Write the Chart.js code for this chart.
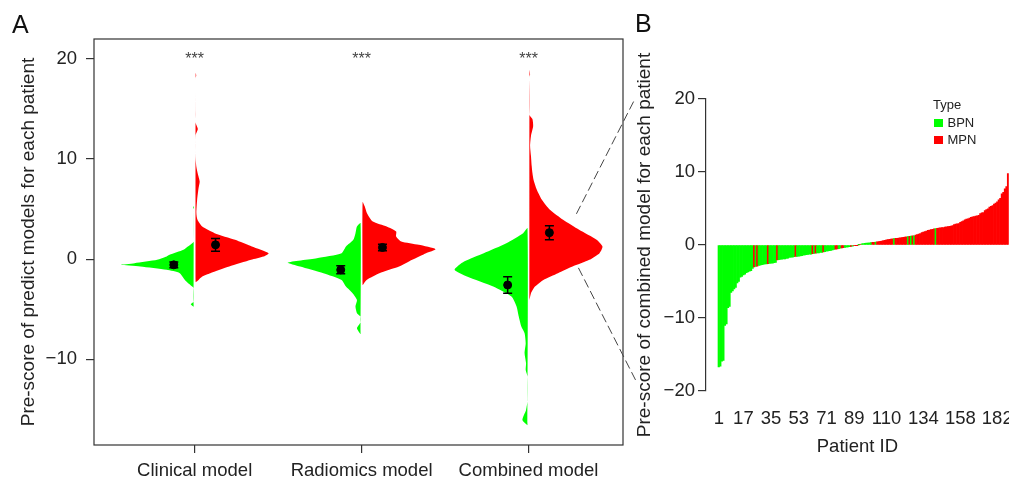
<!DOCTYPE html>
<html>
<head>
<meta charset="utf-8">
<title>Pre-score violins and waterfall</title>
<script src="https://cdn.jsdelivr.net/npm/chart.js@4.4.1/dist/chart.umd.min.js"></script>
<style>
  html, body { margin: 0; padding: 0; background: #fff; overflow: hidden; }
  body { width: 1009px; height: 480px; position: relative; font-family: "Liberation Sans", Arial, Helvetica, sans-serif; }
  #chartA { position: absolute; left: 0; top: 0; }
  #chartB { position: absolute; left: 630px; top: 0; }
  .panel { position: absolute; font-size: 25px; line-height: 1; color: #111; }
</style>
</head>
<body>
<canvas id="chartA" width="640" height="480"></canvas>
<canvas id="chartB" width="400" height="480"></canvas>
<div class="panel" style="left:12px;top:12px">A</div>
<div class="panel" style="left:635px;top:11px">B</div>
<script>
// ---------- Panel A data ----------
const models = ["Clinical model", "Radiomics model", "Combined model"];
const scoreTicks = [-10, 0, 10, 20];

// violin outlines: score levels and relative density (1 = widest)
const clinBpnY = [-4.75, -4.5, -4.25, -2.9, -2.74, -2.07, -1.4, -1.07, -0.74, -0.57, -0.4, -0.07, 0.26, 0.43, 0.93, 1.26, 1.6, 1.75, 5.0, 5.15, 5.3];
const clinBpnD = [0, 0.04, 0, 0, 0.02, 0.12, 0.19, 0.37, 0.73, 1.0, 0.81, 0.5, 0.37, 0.33, 0.14, 0.08, 0.02, 0, 0, 0.01, 0];
const clinMpnY = [-2.3, -2.07, -1.74, -1.4, -0.74, -0.07, 0.26, 0.6, 1.26, 1.93, 2.6, 3.26, 3.93, 4.6, 5.9, 7.1, 7.76, 8.5, 9.2, 10.0, 12.4, 13.0, 13.6, 14.5, 18.1, 18.35, 18.6];
const clinMpnD = [0, 0.04, 0.09, 0.2, 0.46, 0.76, 0.93, 1.0, 0.77, 0.54, 0.26, 0.09, 0.025, 0.01, 0.02, 0.04, 0.055, 0.03, 0.01, 0, 0, 0.03, 0, 0, 0, 0.008, 0];
const radBpnY = [-7.5, -6.9, -6.3, -5.74, -5.4, -4.74, -4.07, -3.4, -2.74, -2.07, -1.4, -0.74, -0.34, 0.1, 0.6, 1.26, 1.93, 2.6, 3.26, 3.6];
const radBpnD = [0, 0.05, 0, 0, 0.05, 0.07, 0.05, 0.11, 0.2, 0.26, 0.51, 0.83, 1.0, 0.6, 0.26, 0.2, 0.1, 0.07, 0.05, 0];
const radMpnY = [-2.6, -2.07, -1.4, -0.74, -0.07, 0.6, 1.0, 1.43, 1.76, 2.26, 2.76, 3.26, 3.76, 4.6, 5.26, 5.7];
const radMpnD = [0, 0.055, 0.23, 0.5, 0.68, 0.87, 1.0, 0.77, 0.53, 0.46, 0.46, 0.33, 0.14, 0.06, 0.03, 0];
const combBpnY = [-16.6, -16.07, -15.07, -14.1, -11.74, -11.07, -10.4, -9.4, -8.4, -7.4, -6.74, -5.74, -4.74, -3.74, -2.74, -1.74, -1.07, -0.24, 0.6, 1.6, 2.6, 3.1];
const combBpnD = [0, 0.07, 0.02, 0, 0, 0.025, 0.02, 0.04, 0.025, 0.04, 0.085, 0.12, 0.15, 0.22, 0.47, 0.83, 1.0, 0.87, 0.6, 0.29, 0.06, 0];
const combMpnY = [-4.07, -3.4, -2.74, -2.07, -1.4, -0.74, -0.07, 0.6, 1.26, 1.93, 2.93, 3.93, 4.93, 5.93, 6.93, 7.93, 8.6, 9.3, 10.3, 11.3, 12.3, 13.3, 14.0, 14.4, 18.2, 18.5, 18.9];
const combMpnD = [0, 0.02, 0.075, 0.19, 0.39, 0.59, 0.82, 0.96, 1.0, 0.92, 0.68, 0.46, 0.28, 0.17, 0.1, 0.055, 0.04, 0.03, 0.02, 0.008, 0.02, 0.05, 0.04, 0, 0, 0.008, 0];

// mean and standard error per model
const meanBpn = [-0.57, -1.07, -2.58];
const seBpn = [0.28, 0.4, 0.83];
const meanMpn = [1.43, 1.17, 2.65];
const seMpn = [0.63, 0.33, 0.7];
const signif = ["***", "***", "***"];

// ---------- Panel B data ----------
const patientScore = [
  -16.7, -16.6, -15.9, -15.8, -11.0, -10.8, -8.6, -8.4, -6.5, -6.3,
  -6.0, -5.8, -5.2, -5.0, -4.4, -4.3, -4.1, -4.0, -3.8, -3.7,
  -3.6, -3.5, -3.2, -3.0, -2.95, -2.9, -2.8, -2.75, -2.7, -2.65,
  -2.6, -2.58, -2.55, -2.52, -2.5, -2.48, -2.42, -2.4, -2.05, -2.0,
  -1.98, -1.95, -1.92, -1.9, -1.85, -1.82, -1.7, -1.68, -1.65, -1.6,
  -1.57, -1.55, -1.52, -1.5, -1.45, -1.4, -1.35, -1.32, -1.3, -1.27,
  -1.25, -1.2, -1.17, -1.12, -1.1, -1.07, -1.03, -1.0, -0.95, -0.9,
  -0.86, -0.82, -0.78, -0.74, -0.68, -0.62, -0.57, -0.53, -0.49, -0.45,
  -0.41, -0.38, -0.34, -0.3, -0.26, -0.22, -0.19, -0.15, -0.1, -0.06,
  -0.03, 0.02, 0.1, 0.15, 0.2, 0.22, 0.25, 0.27, 0.3, 0.32,
  0.35, 0.37, 0.4, 0.45, 0.48, 0.5, 0.55, 0.6, 0.65, 0.7,
  0.74, 0.78, 0.82, 0.85, 0.87, 0.9, 0.93, 0.96, 0.99, 1.02,
  1.05, 1.08, 1.12, 1.15, 1.18, 1.21, 1.24, 1.27, 1.35, 1.42,
  1.48, 1.55, 1.7, 1.78, 1.85, 1.92, 2.0, 2.05, 2.1, 2.15,
  2.2, 2.25, 2.3, 2.33, 2.36, 2.38, 2.4, 2.45, 2.5, 2.53,
  2.56, 2.6, 2.65, 2.8, 2.85, 2.9, 2.95, 3.1, 3.2, 3.3,
  3.45, 3.55, 3.6, 3.7, 3.8, 3.85, 3.9, 3.95, 4.0, 4.05,
  4.3, 4.4, 4.45, 4.7, 4.85, 4.95, 5.2, 5.3, 5.4, 5.6,
  5.75, 5.9, 6.2, 6.4, 7.0, 7.2, 7.7, 8.0, 9.8
];
// B = BPN, M = MPN, one letter per patient
const patientType = (
  "BBBBBBBBBB" + "BBBBBBBBBB" + "BBBMBMBBBB" + "BBMBBBBBMB" + "BBBBBBBBBB" +
  "MBBBBBBBBB" + "BMBMBBBBMB" + "BBBBBBMMBB" + "MMBBBBMBMM" + "MBMBBBBBBB" +
  "MMBMMMMMMM" + "MMMMBMMMMM" + "MMMBMBMBMM" + "MMMMMMMMMM" + "MBMMMMMMMM" +
  "MMMMMMMMMM" + "MMMMMMMMMM" + "MMMMMMMMMM" + "MMMMMMMMM"
).split("");
const idTicks = [1, 17, 35, 53, 71, 89, 110, 134, 158, 182];
const typeNames = ["BPN", "MPN"];
const scoreTicksB = [-20, -10, 0, 10, 20];

// ---------- look ----------
const GREEN = "#00ff00";
const RED = "#ff0000";
const INK = "#222";
const AXIS = "#333";
const FONT = '"Liberation Sans", Arial, Helvetica, sans-serif';
const HALF_WIDTH = 0.437; // x units for relative density 1
const SPLIT_GAP = 0.006;  // white gap between the two halves
const DODGE = 0.125;

Chart.defaults.font.family = FONT;
Chart.defaults.color = INK;

const minus = v => (v < 0 ? "\u2212" + Math.abs(v) : String(v));

function halfViolin(center, side, ys, ds) {
  const pts = ys.map((y, i) => ({ x: center + side * (SPLIT_GAP + ds[i] * HALF_WIDTH), y: y }));
  pts.push({ x: center + side * SPLIT_GAP, y: ys[0] }); // close along the split line
  return pts;
}

function violinSet(center, side, ys, ds, color) {
  return {
    data: halfViolin(center, side, ys, ds),
    backgroundColor: color,
    borderWidth: 0,
    fill: "shape",
    pointRadius: 0,
    tension: 0.2,
    order: 1
  };
}

const violins = [
  violinSet(1, -1, clinBpnY, clinBpnD, GREEN),
  violinSet(1, 1, clinMpnY, clinMpnD, RED),
  violinSet(2, -1, radBpnY, radBpnD, GREEN),
  violinSet(2, 1, radMpnY, radMpnD, RED),
  violinSet(3, -1, combBpnY, combBpnD, GREEN),
  violinSet(3, 1, combMpnY, combMpnD, RED)
];

const meanPoints = [];
models.forEach((m, i) => {
  meanPoints.push({ x: i + 1 - DODGE, y: meanBpn[i] });
  meanPoints.push({ x: i + 1 + DODGE, y: meanMpn[i] });
});

// ---------- error bars ----------
const errorBars = {
  id: "errorBars",
  afterDatasetsDraw(chart) {
    const { ctx, scales: { x, y } } = chart;
    ctx.save();
    ctx.strokeStyle = "#000";
    ctx.lineWidth = 1.5;
    const draw = (cx, m, se) => {
      const px = x.getPixelForValue(cx);
      const top = y.getPixelForValue(m + se);
      const bot = y.getPixelForValue(m - se);
      ctx.beginPath();
      ctx.moveTo(px, top); ctx.lineTo(px, bot);
      ctx.moveTo(px - 4.5, top); ctx.lineTo(px + 4.5, top);
      ctx.moveTo(px - 4.5, bot); ctx.lineTo(px + 4.5, bot);
      ctx.stroke();
    };
    models.forEach((m, i) => {
      draw(i + 1 - DODGE, meanBpn[i], seBpn[i]);
      draw(i + 1 + DODGE, meanMpn[i], seMpn[i]);
    });
    ctx.restore();
  }
};

// zoom lines from the combined violin towards panel B (value coords of A)
const zoomLinks = [[3.287, 4.53, 3.635, 15.93], [3.299, -0.87, 3.641, -12.07]];

const panelA = {
  id: "panelA",
  afterDraw(chart) {
    const { ctx, chartArea: a, scales: { x, y } } = chart;
    ctx.save();
    // frame
    ctx.strokeStyle = AXIS;
    ctx.lineWidth = 1.2;
    ctx.strokeRect(a.left, a.top, a.right - a.left, a.bottom - a.top);
    // significance stars
    ctx.fillStyle = "#444";
    ctx.font = "16px " + FONT;
    ctx.textAlign = "center";
    ctx.textBaseline = "middle";
    signif.forEach((s, i) => ctx.fillText(s, x.getPixelForValue(i + 1), y.getPixelForValue(19.9)));
    // dashed zoom lines
    ctx.strokeStyle = "#444";
    ctx.lineWidth = 1;
    ctx.setLineDash([9, 4]);
    zoomLinks.forEach(l => {
      ctx.beginPath();
      ctx.moveTo(x.getPixelForValue(l[0]), y.getPixelForValue(l[1]));
      ctx.lineTo(x.getPixelForValue(l[2]), y.getPixelForValue(l[3]));
      ctx.stroke();
    });
    ctx.restore();
  }
};

// ---------- Panel A chart ----------
new Chart(document.getElementById("chartA"), {
  type: "line",
  data: {
    datasets: violins.concat([{
      type: "scatter",
      data: meanPoints,
      showLine: false,
      pointRadius: 4,
      pointBackgroundColor: "#000",
      pointBorderColor: "#000",
      pointBorderWidth: 1,
      order: 0
    }])
  },
  options: {
    responsive: false,
    animation: false,
    layout: { padding: { top: 39, right: 17, left: 0, bottom: 0 } },
    plugins: { legend: { display: false }, tooltip: { enabled: false } },
    scales: {
      x: {
        type: "linear",
        min: 0.397,
        max: 3.566,
        afterBuildTicks: s => { s.ticks = models.map((m, i) => ({ value: i + 1 })); },
        afterFit: s => { s.height = 35; },
        grid: { drawOnChartArea: false, drawTicks: true, tickLength: 8, color: AXIS, lineWidth: 1.2 },
        border: { display: false },
        ticks: {
          callback: v => models[Math.round(v) - 1],
          padding: 7,
          autoSkip: false,
          maxRotation: 0,
          font: { size: 18.5 },
          color: INK
        }
      },
      y: {
        min: -18.57,
        max: 22,
        afterBuildTicks: s => { s.ticks = scoreTicks.map(v => ({ value: v })); },
        afterFit: s => { s.width = 94; },
        grid: { drawOnChartArea: false, drawTicks: true, tickLength: 8, color: AXIS, lineWidth: 1.2 },
        border: { display: false },
        ticks: { callback: minus, padding: 9, font: { size: 18.5 }, color: INK },
        title: {
          display: true,
          text: "Pre-score of predict models for each patient",
          font: { size: 19 },
          padding: { top: 17, bottom: 0 },
          color: INK
        }
      }
    }
  },
  plugins: [errorBars, panelA]
});

// ---------- Panel B legend ----------
const legendB = {
  id: "legendB",
  afterDraw(chart) {
    const ctx = chart.ctx;
    ctx.save();
    ctx.font = "13px " + FONT;
    ctx.textBaseline = "middle";
    ctx.fillStyle = INK;
    ctx.fillText("Type", 303, 105);
    typeNames.forEach((name, i) => {
      ctx.fillStyle = i === 0 ? GREEN : RED;
      ctx.fillRect(304, 119 + i * 17, 9, 8);
      ctx.fillStyle = INK;
      ctx.fillText(name, 317.5, 123.5 + i * 17);
    });
    ctx.restore();
  }
};

// ---------- Panel B chart ----------
new Chart(document.getElementById("chartB"), {
  type: "bar",
  data: {
    datasets: [{
      data: patientScore.map((v, i) => ({ x: i + 1, y: v })),
      backgroundColor: patientType.map(t => (t === "B" ? GREEN : RED)),
      borderWidth: 0,
      barPercentage: 1,
      categoryPercentage: 1
    }]
  },
  options: {
    responsive: false,
    animation: false,
    layout: { padding: { top: 99, right: 21, left: 0, bottom: 0 } },
    plugins: { legend: { display: false }, tooltip: { enabled: false } },
    scales: {
      x: {
        type: "linear",
        min: -7.3,
        max: 189.5,
        offset: false,
        afterBuildTicks: s => { s.ticks = idTicks.map(v => ({ value: v })); },
        afterFit: s => { s.height = 89; },
        grid: { display: false, drawTicks: false },
        border: { display: false },
        ticks: {
          callback: v => String(v),
          padding: 16.5,
          autoSkip: false,
          maxRotation: 0,
          font: { size: 18.5 },
          color: INK
        },
        title: {
          display: true,
          text: "Patient ID",
          font: { size: 18.5 },
          padding: { top: 0, bottom: 22 },
          color: INK
        }
      },
      y: {
        min: -20,
        max: 20,
        afterBuildTicks: s => { s.ticks = scoreTicksB.map(v => ({ value: v })); },
        afterFit: s => { s.width = 76; },
        grid: { drawOnChartArea: false, drawTicks: true, tickLength: 8, color: AXIS, lineWidth: 1.2 },
        border: { display: true, color: AXIS, width: 1.2 },
        ticks: { callback: minus, padding: 3, font: { size: 18.5 }, color: INK },
        title: {
          display: true,
          text: "Pre-score of combined model for each patient",
          font: { size: 19 },
          padding: { top: 3, bottom: 0 },
          color: INK
        }
      }
    }
  },
  plugins: [legendB]
});
</script>
</body>
</html>
